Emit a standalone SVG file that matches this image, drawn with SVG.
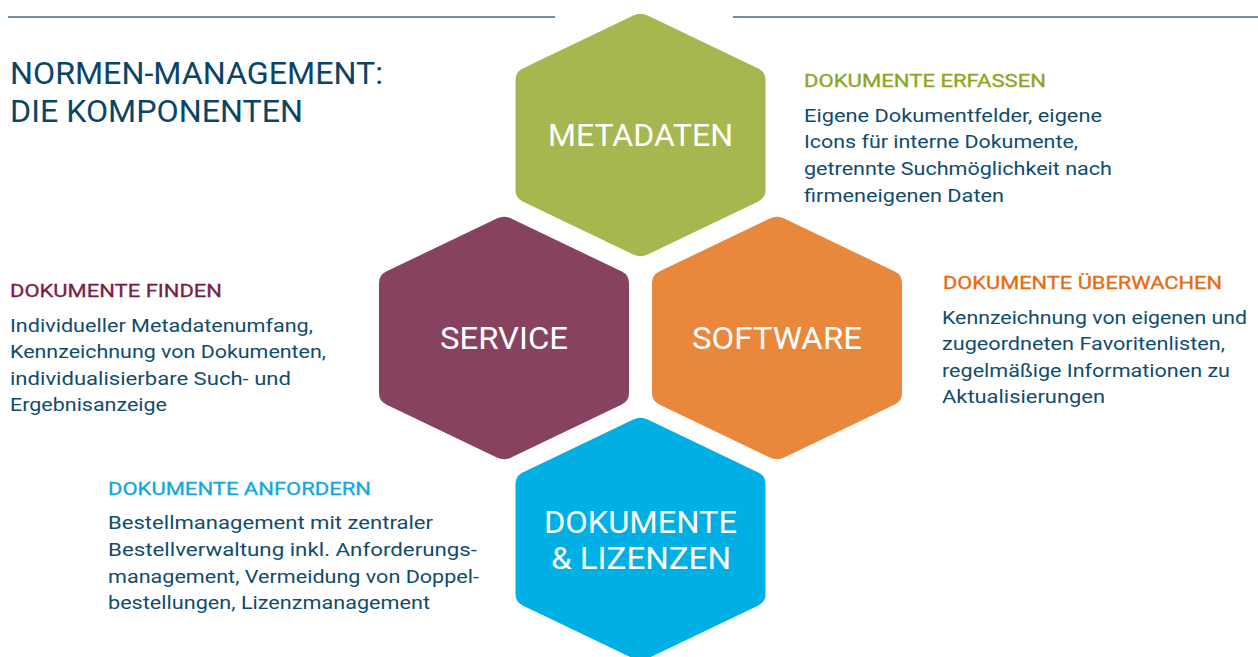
<svg xmlns="http://www.w3.org/2000/svg" width="1258" height="657" viewBox="0 0 1258 657">
<style>
text{font-family:Roboto,"Liberation Sans",sans-serif;}
.rule{stroke:#3f6a8c;stroke-width:1.5;fill:none}
.title{font-size:31px;fill:#0b4566}
.hl{font-size:31px;fill:#ffffff;text-anchor:middle}
.head{font-size:18.5px;stroke-width:0.3px}
.body{font-size:18px;fill:#104c6d}
.g{fill:#8fa51f;stroke:#8fa51f}.p{fill:#7a1d48;stroke:#7a1d48}.o{fill:#e8690f;stroke:#e8690f}.b{fill:#10a8e2;stroke:#10a8e2}
</style>
<defs>
<path id="hex" d="M-7.2,-119.5 Q0,-123 7.2,-119.5 L117.8,-66.5 Q125,-63 125,-55 L125,55 Q125,63 117.8,66.5 L7.2,119.5 Q0,123 -7.2,119.5 L-117.8,66.5 Q-125,63 -125,55 L-125,-55 Q-125,-63 -117.8,-66.5 Z"/>
</defs>
<rect width="1258" height="657" fill="#ffffff"/>
<g id="rules">
<line class="rule" x1="8" y1="17" x2="555" y2="17"/>
<line class="rule" x1="733" y1="17" x2="1258" y2="17"/>
</g>
<g id="title">
<text class="title" x="10" y="84" textLength="373" lengthAdjust="spacingAndGlyphs">NORMEN-MANAGEMENT:</text>
<text class="title" x="10" y="122" textLength="293" lengthAdjust="spacingAndGlyphs">DIE KOMPONENTEN</text>
</g>
<g id="connectors"></g>
<g id="metadaten">
<use href="#hex" x="640.5" y="135" fill="#a6b74f"/>
<text class="hl" x="640.5" y="146" textLength="185" lengthAdjust="spacingAndGlyphs">METADATEN</text>
</g>
<g id="service">
<use href="#hex" x="504" y="338" fill="#87425f"/>
<text class="hl" x="504" y="349" textLength="128" lengthAdjust="spacingAndGlyphs">SERVICE</text>
</g>
<g id="software">
<use href="#hex" x="777" y="338" fill="#e9873c"/>
<text class="hl" x="777" y="349" textLength="170" lengthAdjust="spacingAndGlyphs">SOFTWARE</text>
</g>
<g id="dokumente">
<use href="#hex" x="640.5" y="539" fill="#00b0e5"/>
<text class="hl" x="640.5" y="533" textLength="193" lengthAdjust="spacingAndGlyphs">DOKUMENTE</text>
<text class="hl" x="641" y="569" textLength="180" lengthAdjust="spacingAndGlyphs">&amp; LIZENZEN</text>
</g>
<g id="erfassen">
<text class="head g" x="804" y="87" textLength="242" lengthAdjust="spacingAndGlyphs">DOKUMENTE ERFASSEN</text>
<text class="body" x="804" y="122" textLength="298" lengthAdjust="spacingAndGlyphs">Eigene Dokumentfelder, eigene</text>
<text class="body" x="804" y="148" textLength="274" lengthAdjust="spacingAndGlyphs">Icons für interne Dokumente,</text>
<text class="body" x="804" y="175" textLength="308" lengthAdjust="spacingAndGlyphs">getrennte Suchmöglichkeit nach</text>
<text class="body" x="804" y="202" textLength="200" lengthAdjust="spacingAndGlyphs">firmeneigenen Daten</text>
</g>
<g id="finden">
<text class="head p" x="10" y="297" textLength="212" lengthAdjust="spacingAndGlyphs">DOKUMENTE FINDEN</text>
<text class="body" x="10" y="332" textLength="303" lengthAdjust="spacingAndGlyphs">Individueller Metadatenumfang,</text>
<text class="body" x="10" y="358" textLength="316" lengthAdjust="spacingAndGlyphs">Kennzeichnung von Dokumenten,</text>
<text class="body" x="10" y="385" textLength="281" lengthAdjust="spacingAndGlyphs">individualisierbare Such- und</text>
<text class="body" x="10" y="411" textLength="157" lengthAdjust="spacingAndGlyphs">Ergebnisanzeige</text>
</g>
<g id="ueberwachen">
<text class="head o" x="943" y="289" textLength="279" lengthAdjust="spacingAndGlyphs">DOKUMENTE ÜBERWACHEN</text>
<text class="body" x="942" y="324" textLength="305" lengthAdjust="spacingAndGlyphs">Kennzeichnung von eigenen und</text>
<text class="body" x="942" y="350" textLength="283" lengthAdjust="spacingAndGlyphs">zugeordneten Favoritenlisten,</text>
<text class="body" x="942" y="377" textLength="288" lengthAdjust="spacingAndGlyphs">regelmäßige Informationen zu</text>
<text class="body" x="942" y="403" textLength="163" lengthAdjust="spacingAndGlyphs">Aktualisierungen</text>
</g>
<g id="anfordern">
<text class="head b" x="108" y="495" textLength="263" lengthAdjust="spacingAndGlyphs">DOKUMENTE ANFORDERN</text>
<text class="body" x="108" y="529" textLength="325" lengthAdjust="spacingAndGlyphs">Bestellmanagement mit zentraler</text>
<text class="body" x="108" y="556" textLength="369" lengthAdjust="spacingAndGlyphs">Bestellverwaltung inkl. Anforderungs-</text>
<text class="body" x="108" y="583" textLength="371" lengthAdjust="spacingAndGlyphs">management, Vermeidung von Doppel-</text>
<text class="body" x="108" y="609" textLength="322" lengthAdjust="spacingAndGlyphs">bestellungen, Lizenzmanagement</text>
</g>
</svg>
